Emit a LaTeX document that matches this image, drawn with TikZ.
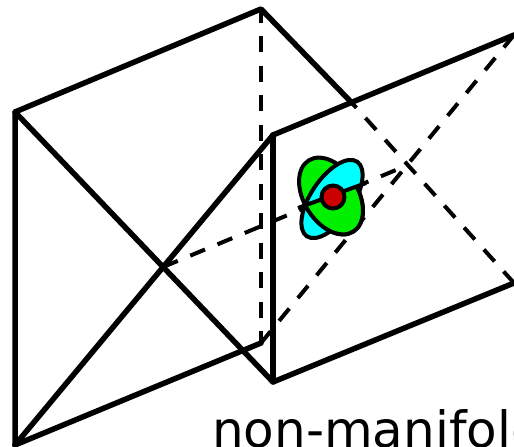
\documentclass[tikz,border=0pt]{standalone}
\usepackage{fontspec}
\setmainfont{DejaVu Sans}
\usetikzlibrary{calc}
\definecolor{lobea}{HTML}{00F000}
\definecolor{lobeb}{HTML}{00FFFF}
\definecolor{core}{HTML}{CC0000}
\tikzset{
  edge/.style={line width=5.5pt,line cap=round,line join=round},
  hidden/.style={line width=4pt,dash pattern=on 16pt off 13.5pt},
  lobe/.style={line width=4pt},
}
\begin{document}
\begin{tikzpicture}[x=1pt,y=-1pt]
  \useasboundingbox (0,0) rectangle (514,447);
  \clip (0,0) rectangle (514,447);
  \foreach \nm/\px/\py in {backtl/15/112,backbl/15/445,backtr/261/9,backbr/261/343,
      fronttl/273/135,frontbl/273/382,fronttr/514/35,frontbr/514/283,
      mid/163/267,cross/352/103,meet/408/165,planea/298/208,planeb/366/183} {
    \coordinate (\nm) at (\px,\py);
  }
  % hidden lines first
  \draw[hidden,dash phase=2.5pt] (backtr) -- (backbr);
  \draw[hidden,dash phase=9.4pt] (cross) -- (frontbr);
  \draw[hidden] (fronttr) -- (backbr);
  \draw[hidden] (mid) -- (meet);
  % solid edges
  \draw[edge] (backbl) -- (backtl) -- (backtr) -- (cross);
  \draw[edge] (backtl) -- (frontbl) -- (frontbr);
  \draw[edge] (backbl) -- (fronttl) -- (fronttr);
  \draw[edge] (backbl) -- (backbr);
  \draw[edge] (fronttl) -- (frontbl);
  % the two lobes, cut by the line through the vertex
  \coordinate (vertex) at (333,197);
  \draw[lobe,fill=lobea] (331,196) ellipse[x radius=42,y radius=27,rotate=-58];
  \draw[lobe,fill=lobeb] (332,199) ellipse[x radius=45,y radius=21,rotate=56];
  \begin{scope}
    \clip (planea) -- (planeb) -- ++(60,60) -- ++(-130,40) -- cycle;
    \draw[lobe,fill=lobea] (331,196) ellipse[x radius=42,y radius=27,rotate=-58];
  \end{scope}
  \draw[lobe,line cap=butt] (planea) -- (planeb);
  \node[circle,draw,line width=4pt,fill=core,minimum size=23pt,inner sep=0pt] (vertexdot) at (vertex) {};
  \node[anchor=base west,inner sep=0pt,font=\fontsize{50}{52}\selectfont] (caption) at (212,447) {non-manifold};
\end{tikzpicture}
\end{document}
